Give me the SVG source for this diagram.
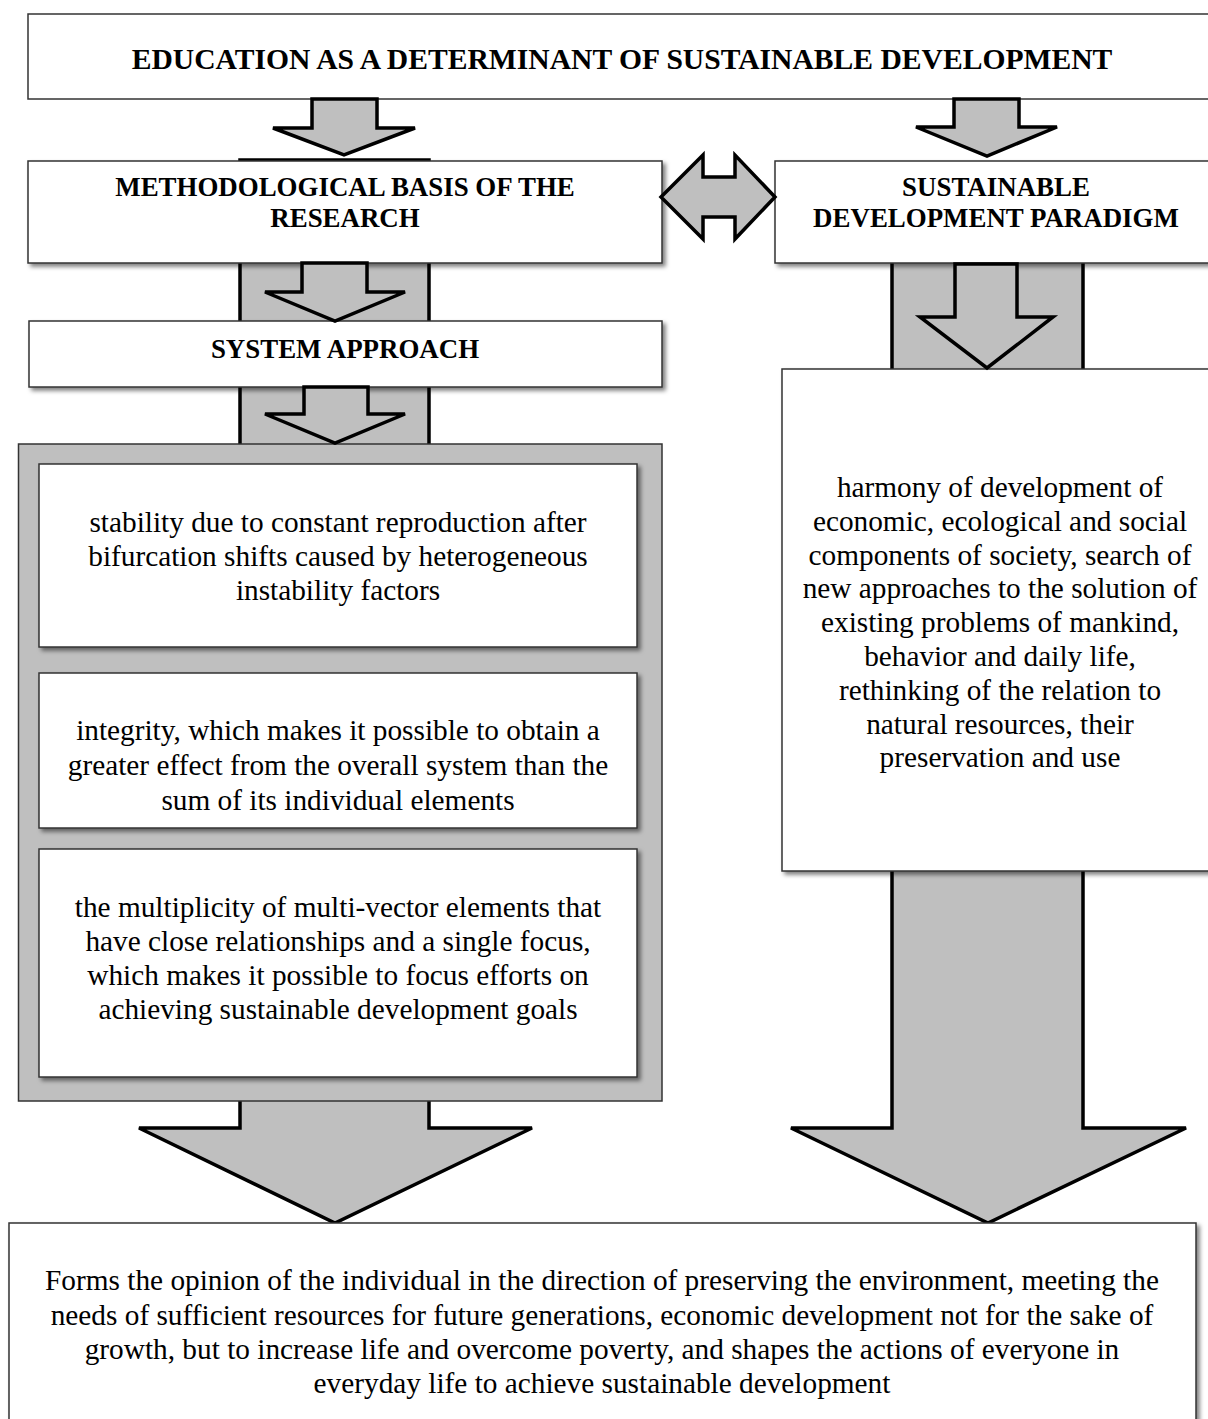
<svg xmlns="http://www.w3.org/2000/svg" width="1208" height="1419" viewBox="0 0 1208 1419">
<defs>
<filter id="sh" x="-5%" y="-5%" width="115%" height="120%">
<feDropShadow dx="3" dy="3" stdDeviation="2.2" flood-color="#000" flood-opacity="0.5"/>
</filter>
<style>
.box{fill:#fff;stroke:#333;stroke-width:1.5}
.sbox{fill:#fff;stroke:#333;stroke-width:1.5;filter:url(#sh)}
.panel{fill:#bfbfbf;stroke:#333;stroke-width:1.5}
.arr{fill:#bfbfbf;stroke:#000;stroke-width:3.5;stroke-linejoin:miter}
.t{font-family:"Liberation Serif","Times New Roman",serif;font-size:29.3px;text-anchor:middle;fill:#000}
.h{font-family:"Liberation Serif","Times New Roman",serif;font-size:26.9px;font-weight:bold;text-anchor:middle;fill:#000}
.ht{font-family:"Liberation Serif","Times New Roman",serif;font-size:29.6px;font-weight:bold;text-anchor:middle;fill:#000}
</style>
</defs>
<rect width="1208" height="1419" fill="#fff"/>

<g id="connectors-back">
<path class="arr" d="M240,160 H429 V1128 H532 L335,1223 L139,1128 H240 Z"/>
<path class="arr" d="M892,250 H1083 V1128 H1186 L988,1223 L791,1128 H892 Z"/>
</g>

<g id="node-title">
<rect class="box" x="28" y="14" width="1195" height="85"/>
<text class="ht" x="622" y="69">EDUCATION AS A DETERMINANT OF SUSTAINABLE DEVELOPMENT</text>
</g>

<g id="node-method">
<rect class="sbox" x="28" y="161" width="634" height="102"/>
<text class="h" x="345" y="196">METHODOLOGICAL BASIS OF THE</text>
<text class="h" x="345" y="227">RESEARCH</text>
</g>

<g id="node-paradigm">
<rect class="sbox" x="775" y="161" width="448" height="102"/>
<text class="h" x="996" y="196">SUSTAINABLE</text>
<text class="h" x="996" y="227">DEVELOPMENT PARADIGM</text>
</g>

<g id="node-system">
<rect class="sbox" x="29" y="321" width="633" height="66"/>
<text class="h" x="345" y="358">SYSTEM APPROACH</text>
</g>

<g id="node-panel">
<rect class="panel" x="18.5" y="444" width="643.5" height="657"/>
</g>

<g id="node-stability">
<rect class="sbox" x="39" y="464" width="598" height="183"/>
<text class="t" x="338" y="532">stability due to constant reproduction after</text>
<text class="t" x="338" y="566">bifurcation shifts caused by heterogeneous</text>
<text class="t" x="338" y="600">instability factors</text>
</g>

<g id="node-integrity">
<rect class="sbox" x="39" y="673" width="598" height="155"/>
<text class="t" x="338" y="740">integrity, which makes it possible to obtain a</text>
<text class="t" x="338" y="775">greater effect from the overall system than the</text>
<text class="t" x="338" y="810">sum of its individual elements</text>
</g>

<g id="node-multiplicity">
<rect class="sbox" x="39" y="849" width="598" height="228"/>
<text class="t" x="338" y="917">the multiplicity of multi-vector elements that</text>
<text class="t" x="338" y="951">have close relationships and a single focus,</text>
<text class="t" x="338" y="985">which makes it possible to focus efforts on</text>
<text class="t" x="338" y="1019">achieving sustainable development goals</text>
</g>

<g id="node-harmony">
<rect class="sbox" x="782" y="369" width="441" height="502"/>
<text class="t" x="1000" y="497">harmony of development of</text>
<text class="t" x="1000" y="531">economic, ecological and social</text>
<text class="t" x="1000" y="565">components of society, search of</text>
<text class="t" x="1000" y="598">new approaches to the solution of</text>
<text class="t" x="1000" y="632">existing problems of mankind,</text>
<text class="t" x="1000" y="666">behavior and daily life,</text>
<text class="t" x="1000" y="700">rethinking of the relation to</text>
<text class="t" x="1000" y="734">natural resources, their</text>
<text class="t" x="1000" y="767">preservation and use</text>
</g>

<g id="node-result">
<rect class="sbox" x="9" y="1223" width="1187" height="210"/>
<text class="t" x="602" y="1290">Forms the opinion of the individual in the direction of preserving the environment, meeting the</text>
<text class="t" x="602" y="1325">needs of sufficient resources for future generations, economic development not for the sake of</text>
<text class="t" x="602" y="1359">growth, but to increase life and overcome poverty, and shapes the actions of everyone in</text>
<text class="t" x="602" y="1393">everyday life to achieve sustainable development</text>
</g>

<g id="connectors">
<path class="arr" d="M312,99 H377 V128 H415 L344,155 L273,128 H312 Z"/>
<path class="arr" d="M954,99 H1019 V127 H1057 L987,156 L916,127 H954 Z"/>
<path class="arr" d="M661,197 L703,155 V177 H735 V155 L775,197 L735,239 V217 H703 V239 Z"/>
<path class="arr" d="M302,263 H367 V292 H405 L335,321 L265,292 H302 Z"/>
<path class="arr" d="M304,387 H368 V414 H405 L335,443 L265,414 H304 Z"/>
<path class="arr" d="M955,264 H1017 V317 H1053 L987,368 L920,317 H955 Z"/>
</g>
</svg>
